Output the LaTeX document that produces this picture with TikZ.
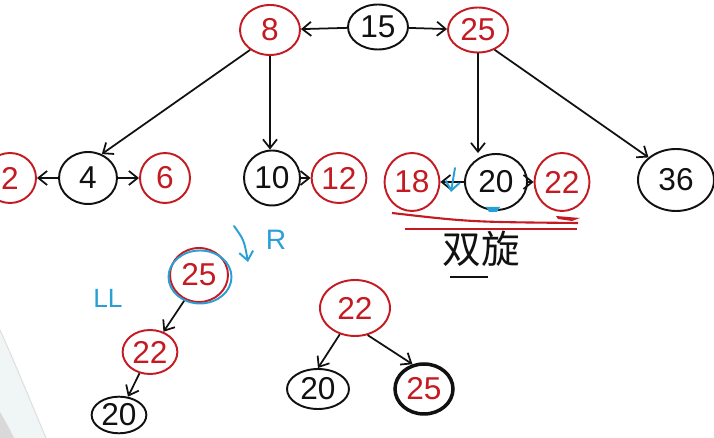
\documentclass[tikz,border=0pt]{standalone}
\usepackage{fontspec}
\setsansfont{Liberation Sans}
\newfontfamily\cjkfont{Noto Sans CJK SC}
\usepackage{xcolor}
\definecolor{ink}{HTML}{111111}
\definecolor{redink}{HTML}{C41A22}
\definecolor{blueink}{HTML}{2A9FD6}
\definecolor{corner}{HTML}{F0F5F5}
\usetikzlibrary{arrows.meta,shapes.geometric}

\begin{document}
\begin{tikzpicture}[
  x=0.02cm,y=-0.02cm,
  font=\sffamily\fontsize{18}{20}\selectfont,
  >={Straight Barb[length=5pt,width=8pt]},
  line width=1pt,
  bnode/.style={draw=ink,ellipse,line width=1.1pt,inner sep=1pt,text=ink},
  rnode/.style={draw=redink,ellipse,line width=1.1pt,inner sep=1pt,text=redink},
  link/.style={->,draw=ink},
  bluemark/.style={draw=blueink,line width=1.1pt,line cap=round},
]
\useasboundingbox (0,0) rectangle (714,438);

% --- faint screen corner, bottom left
\fill[corner] (0,330) .. controls (18,370) and (32,405) .. (46,438) -- (0,438) -- cycle;
\draw[gray!25,line width=0.6pt] (0,330) .. controls (18,370) and (32,405) .. (46,438);
\fill[gray!30] (0,412) .. controls (6,422) and (10,430) .. (14,438) -- (0,438) -- cycle;

% --- top row
\node[rnode,minimum width=1.2cm,minimum height=1.0cm] (n8)  at (270,30) {8};
\node[bnode,minimum width=1.2cm,minimum height=0.9cm] (n15) at (378,27) {15};
\node[rnode,minimum width=1.2cm,minimum height=0.9cm] (n25) at (478,30) {25};

% --- second row
\node[rnode,minimum width=1.04cm,minimum height=1.0cm] (n2)  at (10,178)  {2};
\node[bnode,minimum width=1.16cm,minimum height=1.04cm] (n4) at (88,178)  {4};
\node[rnode,minimum width=1.0cm,minimum height=1.0cm]  (n6)  at (165,178) {6};
\node[bnode,minimum width=1.12cm,minimum height=1.1cm] (n10) at (272,178) {10};
\node[rnode,minimum width=0.92cm,minimum height=1.0cm] (n12) at (339,178) {12};
\node[rnode,minimum width=0.9cm,minimum height=1.16cm] (n18) at (412,182) {18};
\node[bnode,minimum width=1.24cm,minimum height=1.12cm] (n20) at (496,182) {20};
\node[rnode,minimum width=0.76cm,minimum height=1.16cm] (n22) at (562,182) {22};
\node[bnode,minimum width=1.52cm,minimum height=1.24cm] (n36) at (676,180) {36};

% --- rotation sketch, left
\node[rnode,minimum width=1.16cm,minimum height=1.08cm] (a25) at (199,275) {25};
\node[draw=blueink,ellipse,line width=1.1pt,minimum width=1.26cm,minimum height=1.06cm] (a25ring) at (200,277) {};
\node[rnode,minimum width=0.84cm,minimum height=0.88cm] (a22) at (150,352) {22};
\node[bnode,minimum width=0.92cm,minimum height=0.72cm] (a20) at (119,415) {20};

% --- result, middle
\node[rnode,minimum width=1.4cm,minimum height=1.12cm] (b22) at (355,308) {22};
\node[bnode,minimum width=1.24cm,minimum height=0.8cm] (b20) at (318,389) {20};
\node[bnode,line width=2pt,text=redink,minimum width=1.16cm,minimum height=1.0cm] (b25) at (424,389) {25};

% --- arrows
\draw[link] (n15) -- (n8);
\draw[link] (n15) -- (n25);
\draw[link] (n8.225) -- (n4.60);
\draw[link] (n8.south) -- (n8.south |- n10.north);
\draw[link] (n25.south) -- (n25.south |- n20.north);
\draw[link] (n25.-50) -- (n36.north west);
\draw[link] (n4) -- (n2);
\draw[link] (n4) -- (n6);
\draw[link] (n10) -- (n12);
\draw[link] (n20) -- (n18);
\draw[link] (n20) -- (n22);
\draw[link] (a25ring) -- (a22);
\draw[link] (a22) -- (a20);
\draw[link] (b22.240) -- (b20.north);
\draw[link] (b22.-65) -- (b25.115);

% --- blue marks
\coordinate (rtop) at (234,226);
\coordinate (rtip) at (248,262);
\draw[bluemark,->] (rtop) .. controls (244,240) .. (rtip);
\node[text=blueink,font=\sffamily\fontsize{16}{18}\selectfont] (rlabel) at (276,240) {R};
\node[text=blueink,font=\sffamily\fontsize{15}{17}\selectfont] (lllabel) at (108,298) {LL};
\coordinate (dtop) at (455,168);
\coordinate (dtip) at (451,192);
\draw[bluemark,->] (dtop) -- (dtip);
\fill[blueink] (486,207) -- (500,207) -- (497,212) -- (489,212) -- cycle;

% --- red strike lines
\draw[redink,line width=1.2pt] (392,213) .. controls (470,222) .. (578,223);
\draw[redink,line width=1.2pt] (405,229) -- (577,229);
\fill[redink] (556,216) -- (580,218) -- (572,221) -- (558,219) -- cycle;

% --- note
\node[text=ink,font=\cjkfont\fontsize{22}{24}\selectfont] (note) at (481,249) {双旋};
\coordinate (ulleft) at (450,277);
\coordinate (ulright) at (488,277);
\draw[ink,line width=1.2pt] (ulleft) -- (ulright);

\end{tikzpicture}
\end{document}
